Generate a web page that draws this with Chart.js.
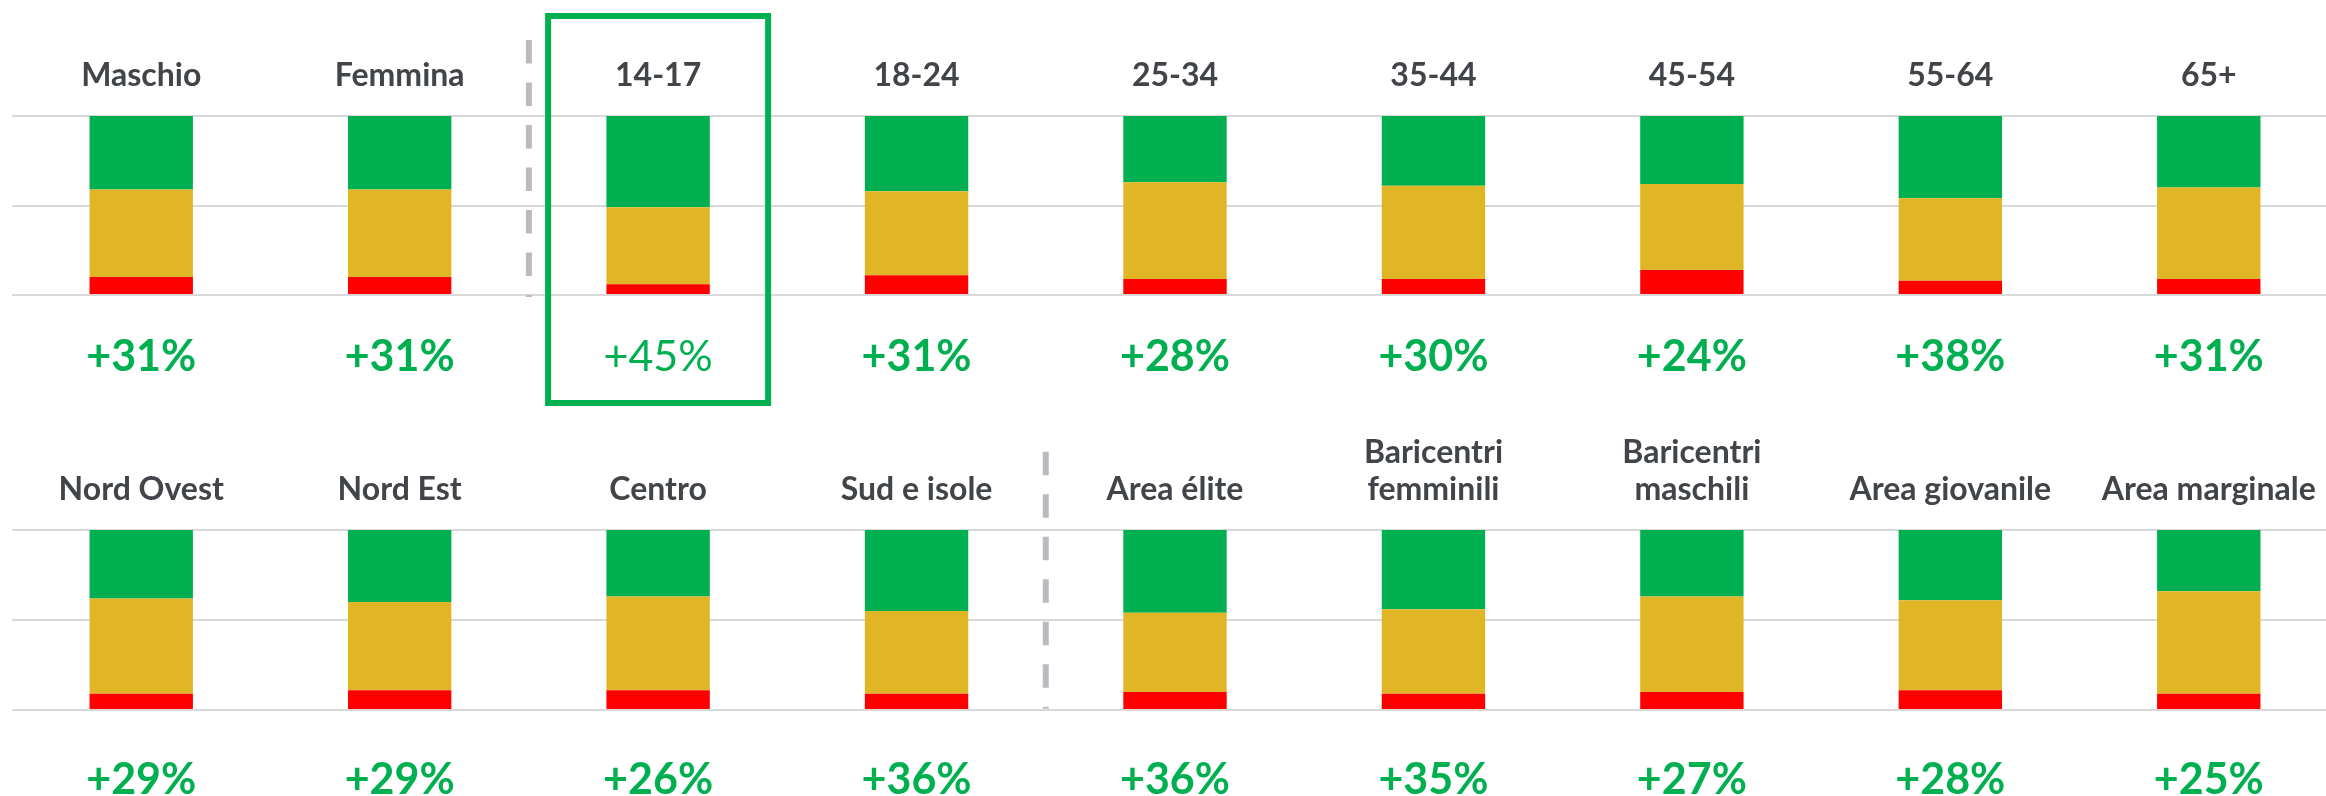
<!DOCTYPE html>
<html lang="it">
<head>
<meta charset="utf-8">
<script src="https://cdn.jsdelivr.net/npm/chart.js@4.4.1/dist/chart.umd.min.js"></script>
<style>
  html, body { margin: 0; padding: 0; background: #fff; overflow: hidden; }
  body { width: 2326px; height: 796px; position: relative; }
  canvas { position: absolute; left: 0; }
  #row1 { top: 0; }
  #row2 { top: 415px; }
</style>
</head>
<body>
<canvas id="row1" width="2340" height="415"></canvas>
<canvas id="row2" width="2340" height="381"></canvas>
<script>
// riga 1: sesso ed età
const row1Labels = ['Maschio', 'Femmina', '14-17', '18-24', '25-34', '35-44', '45-54', '55-64', '65+'];
const row1Red    = [10, 10,  6, 11,  9,  9, 14,  8,  9];
const row1Yellow = [49, 49, 43, 47, 54, 52, 48, 46, 51];
const row1Green  = [41, 41, 51, 42, 37, 39, 38, 46, 40];
const row1Net    = [31, 31, 45, 31, 28, 30, 24, 38, 31];

// riga 2: aree geografiche e cluster
const row2Labels = ['Nord Ovest', 'Nord Est', 'Centro', 'Sud e isole', 'Area élite',
  ['Baricentri', 'femminili'], ['Baricentri', 'maschili'], 'Area giovanile', 'Area marginale'];
const row2Red    = [ 9, 11, 11,  9, 10,  9, 10, 11,  9];
const row2Yellow = [53, 49, 52, 46, 44, 47, 53, 50, 57];
const row2Green  = [38, 40, 37, 45, 46, 44, 37, 39, 34];
const row2Net    = [29, 29, 26, 36, 36, 35, 27, 28, 25];

const GREEN = '#00B050';
const YELLOW = '#E0B626';
const RED = '#FF0000';
const TEXT = '#414449';

// separatore tratteggiato e riquadro evidenziato
const decor = {
  id: 'decor',
  afterDraw(chart, args, o) {
    const ctx = chart.ctx;
    const x = chart.scales.x;
    ctx.save();
    if (o.sepAfter != null) {
      const sx = (x.getPixelForValue(o.sepAfter) + x.getPixelForValue(o.sepAfter + 1)) / 2;
      ctx.strokeStyle = '#B8BCC0';
      ctx.lineWidth = 6;
      ctx.setLineDash([23.5, 19]);
      ctx.beginPath();
      ctx.moveTo(sx, o.sepTop);
      ctx.lineTo(sx, o.sepTop + 257);
      ctx.stroke();
      ctx.setLineDash([]);
    }
    if (o.boxIndex != null) {
      const cx = x.getPixelForValue(o.boxIndex);
      ctx.strokeStyle = GREEN;
      ctx.lineWidth = 6;
      ctx.strokeRect(cx - 110, o.boxTop, 220, o.boxBottom - o.boxTop);
    }
    ctx.restore();
  }
};

function drawRow(id, labels, red, yellow, green, net, extra) {
  new Chart(document.getElementById(id), {
    type: 'bar',
    data: {
      labels: labels,
      datasets: [
        { label: 'Negativo', data: red, backgroundColor: RED },
        { label: 'Neutro', data: yellow, backgroundColor: YELLOW },
        { label: 'Positivo', data: green, backgroundColor: GREEN }
      ]
    },
    options: {
      responsive: false,
      animation: false,
      events: [],
      layout: { padding: { left: 12, right: 2, top: 0, bottom: 0 } },
      datasets: { bar: { categoryPercentage: 1, barPercentage: 0.4, borderWidth: 0 } },
      plugins: {
        legend: { display: false },
        tooltip: { enabled: false },
        decor: extra
      },
      scales: {
        x: {
          position: 'top',
          stacked: true,
          grid: { display: false, drawTicks: false },
          border: { display: false },
          ticks: {
            autoSkip: false, maxRotation: 0, minRotation: 0,
            padding: 22, color: TEXT,
            font: { family: 'Lato', size: 32, weight: 'bold', lineHeight: '37px' }
          },
          afterFit: s => { s.height = extra.topHeight; }
        },
        x2: {
          type: 'category',
          position: 'bottom',
          offset: true,
          labels: net.map(v => '+' + v + '%'),
          grid: { display: false, drawTicks: false },
          border: { display: false },
          ticks: {
            autoSkip: false, maxRotation: 0, minRotation: 0,
            padding: extra.netPad, color: GREEN,
            font: c => ({
              family: 'Lato', size: 43, lineHeight: 1.2,
              weight: c.index === extra.boxIndex ? 'normal' : 'bold'
            })
          },
          afterFit: s => { s.height = extra.bottomHeight; }
        },
        y: {
          stacked: true,
          min: 0, max: 100,
          ticks: { display: false, stepSize: 50 },
          grid: { color: '#D9D9D9', lineWidth: 2, drawTicks: false },
          border: { display: false },
          afterFit: s => { s.width = 0; }
        }
      }
    },
    plugins: [decor]
  });
}

function draw() {
  drawRow('row1', row1Labels, row1Red, row1Yellow, row1Green, row1Net, {
    topHeight: 116, bottomHeight: 120, netPad: 36,
    sepAfter: 1, sepTop: 40,
    boxIndex: 2, boxTop: 16, boxBottom: 403
  });
  drawRow('row2', row2Labels, row2Red, row2Yellow, row2Green, row2Net, {
    topHeight: 115, bottomHeight: 86, netPad: 44,
    sepAfter: 3, sepTop: 36.7,
    boxIndex: null
  });
}

Promise.all([
  document.fonts.load('bold 32px Lato'),
  document.fonts.load('bold 43px Lato'),
  document.fonts.load('43px Lato')
]).then(draw, draw);
</script>
</body>
</html>
